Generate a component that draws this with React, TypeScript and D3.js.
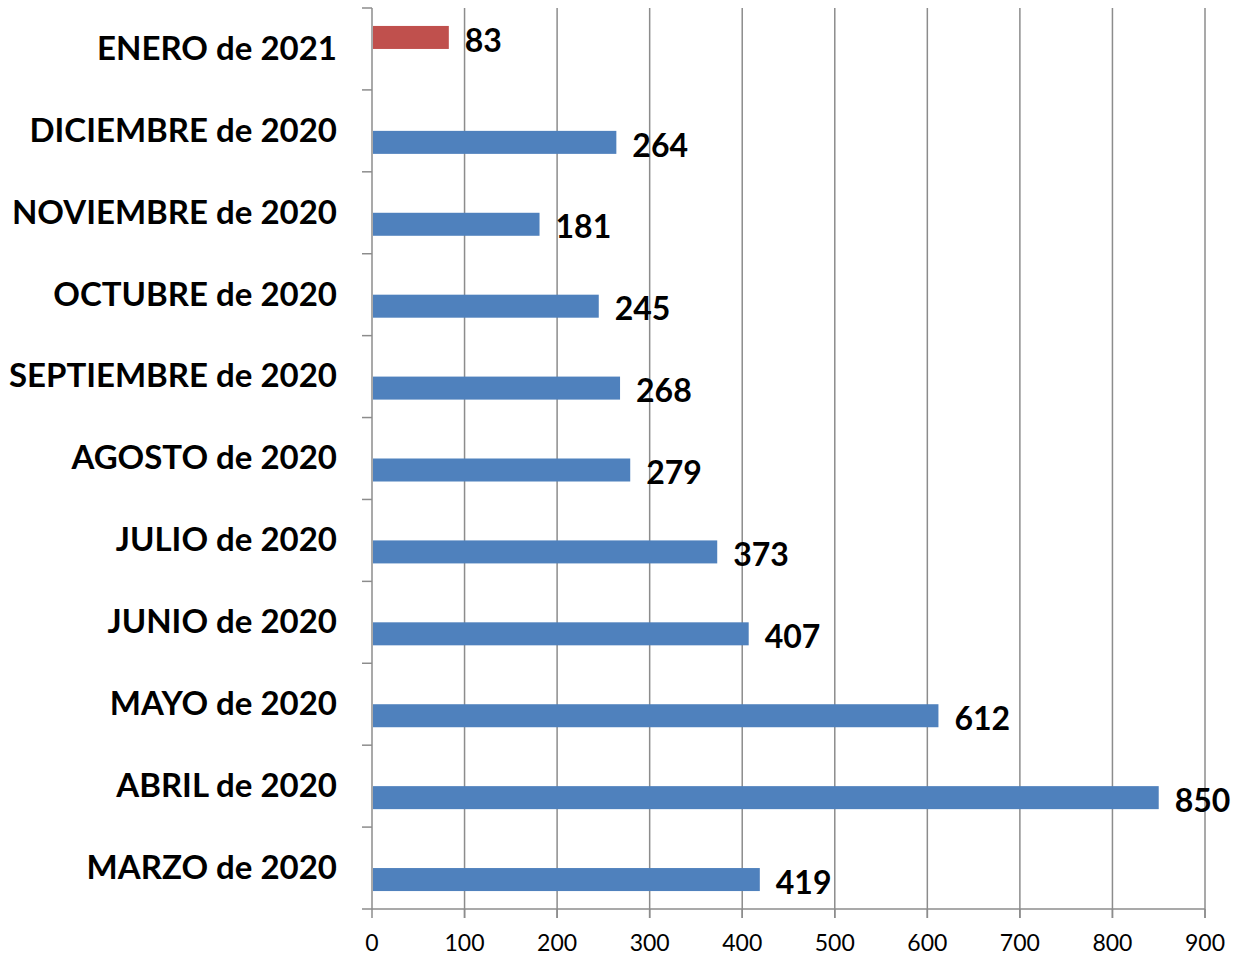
import React, { useRef, useEffect } from "react";
import * as d3 from "d3";

const categories = [
    "ENERO de 2021",
    "DICIEMBRE de 2020",
    "NOVIEMBRE de 2020",
    "OCTUBRE de 2020",
    "SEPTIEMBRE de 2020",
    "AGOSTO de 2020",
    "JULIO de 2020",
    "JUNIO de 2020",
    "MAYO de 2020",
    "ABRIL de 2020",
    "MARZO de 2020",
];
// two series: 2021 (red) and 2020 (blue)
const values2021 = [83, null, null, null, null, null, null, null, null, null, null];
const values2020 = [null, 264, 181, 245, 268, 279, 373, 407, 612, 850, 419];
const seriesNames = ["2021", "2020"];
const xTicks = [0, 100, 200, 300, 400, 500, 600, 700, 800, 900];

const dims = { width: 1235, height: 955 };
const margin = { top: 8, right: 30, bottom: 46, left: 372 };
const colours = { "2021": "#C0504D", "2020": "#4F81BD" };
const font = "Lato, 'Open Sans', sans-serif";

const App = () => {
    const canvas = useRef(null);

    useEffect(() => {
        const root = d3.select(canvas.current);
        root.selectAll("*").remove();

        const svg = root
            .append("svg")
            .attr("width", dims.width)
            .attr("height", dims.height)
            .style("position", "absolute")
            .style("left", 0)
            .style("top", 0)
            .style("background", "#fff");

        const x = d3.scaleLinear().domain([0, 900]).range([margin.left, dims.width - margin.right]);
        const y = d3.scaleBand().domain(categories).range([margin.top, dims.height - margin.bottom]);
        const inner = d3
            .scaleBand()
            .domain(seriesNames)
            .range([0, y.bandwidth()])
            .paddingInner(0)
            .paddingOuter(0.78);

        const y0 = margin.top;
        const y1 = dims.height - margin.bottom;

        // gridlines
        svg.append("g")
            .selectAll("line")
            .data(xTicks.slice(1))
            .enter()
            .append("line")
            .attr("x1", (d) => x(d))
            .attr("x2", (d) => x(d))
            .attr("y1", y0)
            .attr("y2", y1 + 9)
            .attr("stroke", "#8c8c8c")
            .attr("stroke-width", 1.5);

        // x axis
        const xAxis = svg.append("g");
        xAxis.append("line")
            .attr("x1", x(0)).attr("x2", x(900))
            .attr("y1", y1).attr("y2", y1)
            .attr("stroke", "#8c8c8c").attr("stroke-width", 1.5);
        xAxis.selectAll("line.tick")
            .data(xTicks)
            .enter()
            .append("line")
            .attr("class", "tick")
            .attr("x1", (d) => x(d)).attr("x2", (d) => x(d))
            .attr("y1", y1).attr("y2", y1 + 9)
            .attr("stroke", "#8c8c8c").attr("stroke-width", 1.5);
        xAxis.selectAll("text")
            .data(xTicks)
            .enter()
            .append("text")
            .attr("x", (d) => x(d))
            .attr("y", y1 + 42)
            .attr("text-anchor", "middle")
            .style("font-family", font)
            .style("font-size", "23px")
            .text((d) => d);

        // y axis
        const yAxis = svg.append("g");
        yAxis.append("line")
            .attr("x1", x(0)).attr("x2", x(0))
            .attr("y1", y0).attr("y2", y1)
            .attr("stroke", "#8c8c8c").attr("stroke-width", 1.5);
        const bounds = categories.map((c) => y(c)).concat([y1]);
        yAxis.selectAll("line.tick")
            .data(bounds)
            .enter()
            .append("line")
            .attr("class", "tick")
            .attr("x1", x(0) - 10).attr("x2", x(0))
            .attr("y1", (d) => d).attr("y2", (d) => d)
            .attr("stroke", "#8c8c8c").attr("stroke-width", 1.5);
        yAxis.selectAll("text")
            .data(categories)
            .enter()
            .append("text")
            .attr("x", x(0) - 35)
            .attr("y", (d) => y(d) + y.bandwidth() / 2 + 1)
            .attr("dy", "0.3em")
            .attr("text-anchor", "end")
            .style("font-family", font)
            .style("font-size", "33px")
            .style("font-weight", "bold")
            .text((d) => d);

        // bars + labels
        const rows = [];
        categories.forEach((c, i) => {
            if (values2021[i] != null) rows.push({ cat: c, series: "2021", value: values2021[i] });
            if (values2020[i] != null) rows.push({ cat: c, series: "2020", value: values2020[i] });
        });

        svg.append("g")
            .selectAll("rect")
            .data(rows)
            .enter()
            .append("rect")
            .attr("x", x(0) + 1)
            .attr("y", (d) => y(d.cat) + inner(d.series))
            .attr("width", (d) => x(d.value) - x(0) - 1)
            .attr("height", inner.bandwidth())
            .attr("fill", (d) => colours[d.series]);

        svg.append("g")
            .selectAll("text")
            .data(rows)
            .enter()
            .append("text")
            .attr("x", (d) => x(d.value) + 16)
            .attr("y", (d) => y(d.cat) + inner(d.series) + inner.bandwidth() / 2 + 3)
            .attr("dy", "0.35em")
            .style("font-family", font)
            .style("font-size", "32px")
            .style("font-weight", "bold")
            .text((d) => d.value);
    });

    return <div ref={canvas}></div>;
};

export default App;
